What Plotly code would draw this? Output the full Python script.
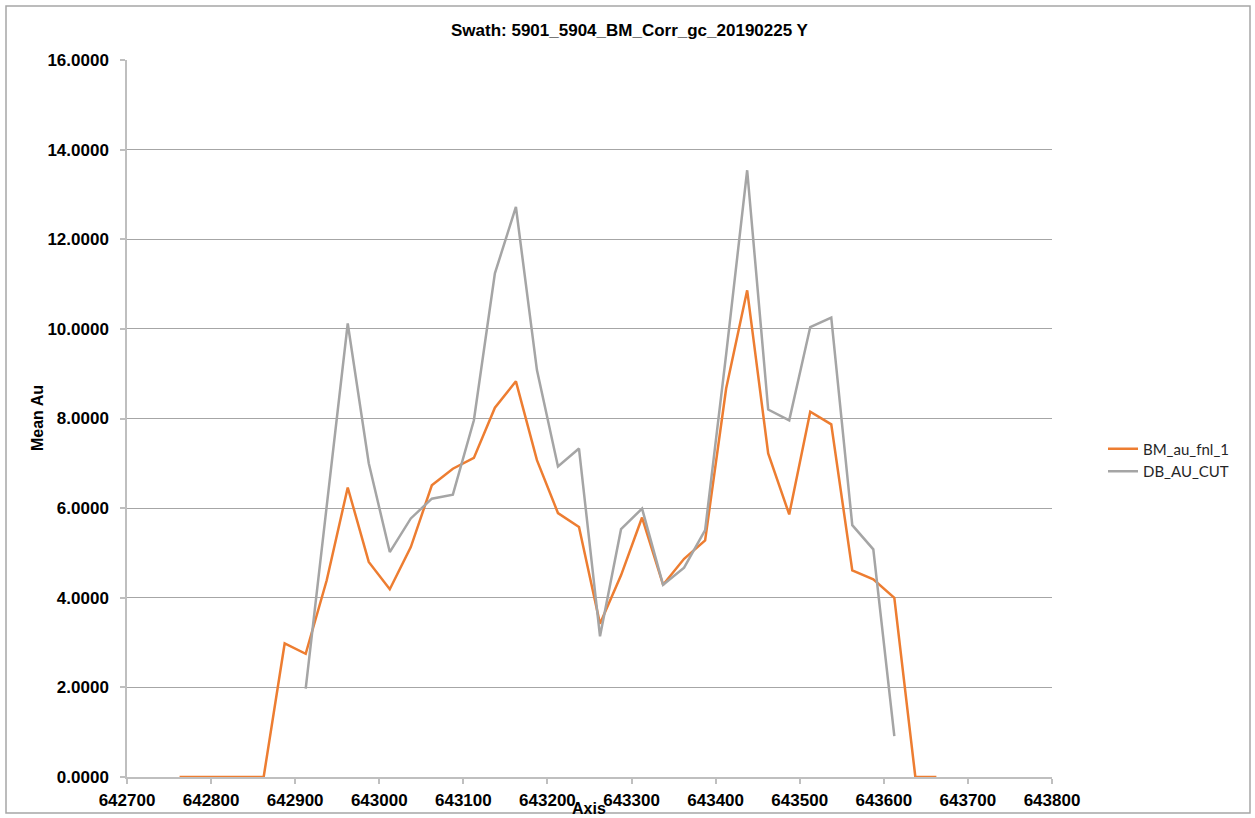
import plotly.graph_objects as go

# ---- data ----
axis_x = [642762.5, 642787.5, 642812.5, 642837.5, 642862.5, 642887.5, 642912.5,
          642937.5, 642962.5, 642987.5, 643012.5, 643037.5, 643062.5, 643087.5,
          643112.5, 643137.5, 643162.5, 643187.5, 643212.5, 643237.5, 643262.5,
          643287.5, 643312.5, 643337.5, 643362.5, 643387.5, 643412.5, 643437.5,
          643462.5, 643487.5, 643512.5, 643537.5, 643562.5, 643587.5, 643612.5,
          643637.5, 643662.5]

bm_au_fnl_1 = [0, 0, 0, 0, 0, 2.98, 2.75, 4.39, 6.46, 4.80, 4.19, 5.13, 6.51,
               6.88, 7.12, 8.24, 8.83, 7.07, 5.89, 5.58, 3.42, 4.50, 5.79, 4.29,
               4.87, 5.28, 8.67, 10.86, 7.22, 5.86, 8.15, 7.87, 4.61, 4.41, 4.00,
               0, 0]

db_au_cut = [None, None, None, None, None, None, 1.97, 6.05, 10.12, 7.00, 5.02,
             5.77, 6.21, 6.30, 7.96, 11.24, 12.72, 9.08, 6.93, 7.33, 3.14, 5.53,
             5.99, 4.29, 4.67, 5.51, 9.43, 13.54, 8.20, 7.96, 10.04, 10.25, 5.62,
             5.08, 0.91, None, None]

series_names = ["BM_au_fnl_1", "DB_AU_CUT"]
series_colors = ["#ED7D31", "#A5A5A5"]
title_text = "Swath: 5901_5904_BM_Corr_gc_20190225 Y"
x_title = "Axis"
y_title = "Mean Au"

# ---- layout geometry (px) ----
W, H = 1255, 818
L, R, T, B = 127, 203, 60, 41
pw, ph = W - L - R, H - T - B

def px_to_paper_x(px):
    return (px - L) / pw

def px_to_paper_y(py):
    return (H - B - py) / ph

fig = go.Figure()
for name, vals, col in zip(series_names, [bm_au_fnl_1, db_au_cut], series_colors):
    fig.add_trace(go.Scatter(x=axis_x, y=vals, mode="lines", name=name,
                             line=dict(color=col, width=2.5),
                             connectgaps=False))

tick_font = dict(family="Liberation Sans, Arial, sans-serif", size=17,
                 color="#000000", weight="bold")
label_font = dict(family="Liberation Sans, Arial, sans-serif", size=16,
                  color="#000000", weight="bold")

fig.update_layout(
    width=W, height=H,
    margin=dict(l=L, r=R, t=T, b=B, autoexpand=False),
    paper_bgcolor="white", plot_bgcolor="white",
    showlegend=True,
    legend=dict(x=px_to_paper_x(1103), y=px_to_paper_y(460), xanchor="left", yanchor="middle",
                font=dict(family="Lato, Carlito, sans-serif", size=15, color="#262626"),
                bgcolor="rgba(0,0,0,0)", tracegroupgap=4),
    xaxis=dict(range=[642700, 643800], dtick=100, tick0=642700, tickformat="d",
               showgrid=False, zeroline=False,
               showline=True, linecolor="#BFBFBF", linewidth=1.5,
               ticks="outside", ticklen=5, tickcolor="#BFBFBF", tickwidth=1.5,
               tickfont=tick_font, ticklabelstandoff=2),
    yaxis=dict(range=[0, 16], dtick=2, tickformat=".4f",
               showgrid=True, gridcolor="#A6A6A6", gridwidth=1, zeroline=False,
               showline=True, linecolor="#BFBFBF", linewidth=1.5,
               ticks="outside", ticklen=5, tickcolor="#BFBFBF", tickwidth=1.5,
               tickfont=tick_font, ticklabelstandoff=8),
    annotations=[
        dict(text=title_text, xref="paper", yref="paper",
             x=px_to_paper_x(630), y=px_to_paper_y(30), xanchor="center", yanchor="middle",
             showarrow=False,
             font=dict(family="Liberation Sans, Arial, sans-serif", size=17,
                       color="#000000", weight="bold")),
        dict(text=x_title, xref="paper", yref="paper",
             x=px_to_paper_x(589), y=px_to_paper_y(809), xanchor="center", yanchor="middle",
             showarrow=False, font=label_font),
        dict(text=y_title, xref="paper", yref="paper",
             x=px_to_paper_x(37), y=px_to_paper_y(418), xanchor="center", yanchor="middle",
             textangle=-90, showarrow=False, font=label_font),
    ],
    shapes=[
        dict(type="rect", xref="paper", yref="paper",
             x0=px_to_paper_x(6), x1=px_to_paper_x(1250),
             y0=px_to_paper_y(813), y1=px_to_paper_y(6),
             line=dict(color="#A6A6A6", width=1.5), fillcolor="rgba(0,0,0,0)", layer="below"),
    ],
)

fig.write_html("out.html",
               config={"displayModeBar": False},
               post_script="document.body.style.margin='0';document.body.style.overflow='hidden';")
